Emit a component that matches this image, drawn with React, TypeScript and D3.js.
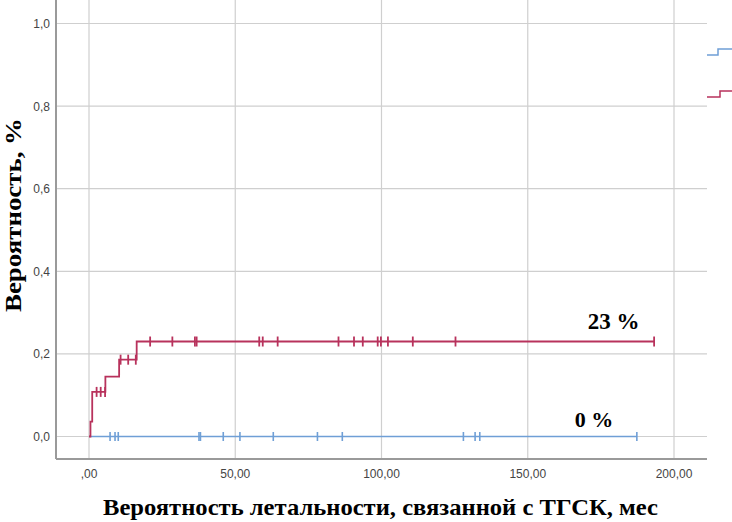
import React from "react";
import * as d3 from "d3";

const xTicks = [0, 50, 100, 150, 200];
const xTickLabels = [",00", "50,00", "100,00", "150,00", "200,00"];
const yTicks = [0, 0.2, 0.4, 0.6, 0.8, 1.0];
const yTickLabels = ["0,0", "0,2", "0,4", "0,6", "0,8", "1,0"];

// red curve: step times and levels
const redStepTimes = [0, 0.5, 1.1, 5.6, 10.3, 16.3, 193.2];
const redStepLevels = [0, 0.036, 0.108, 0.145, 0.186, 0.23, 0.23];
const redCensor = [2.6, 4.0, 5.5, 10.8, 13.4, 16.0, 20.9, 28.5, 36.2, 36.8, 58.2, 59.4, 64.5, 85.3, 90.6, 93.6, 98.7, 99.8, 102.2, 110.7, 125.3, 193.2];

const blueStepTimes = [0, 187.3];
const blueStepLevels = [0, 0];
const blueCensor = [7.2, 8.9, 10.0, 37.6, 38.1, 45.9, 51.6, 63.0, 78.1, 86.6, 128.0, 132.0, 133.6, 187.3];

const RED = "#b8325c";
const BLUE = "#6f9fd6";

export default function App() {
  const W = 732, H = 522;
  const x = d3.scaleLinear().domain([0, 200]).range([89, 674]);
  const y = d3.scaleLinear().domain([0, 1]).range([436.5, 23.5]);
  const left = 56, right = 707, bottom = 459, top = 0;

  const stepPath = (times: number[], levels: number[]) => {
    const pts: [number, number][] = times.map((t, i) => [t, levels[i]]);
    return d3.line<[number, number]>().x(d => x(d[0])).y(d => y(d[1])).curve(d3.curveStepAfter)(pts) || "";
  };
  const levelAt = (times: number[], levels: number[], t: number) => {
    let v = levels[0];
    for (let i = 0; i < times.length; i++) if (times[i] <= t) v = levels[i];
    return v;
  };

  return (
    <svg width={W} height={H} style={{ position: "absolute", left: 0, top: 0, background: "#fff" }}>
      <rect x={0} y={0} width={W} height={H} fill="#fff" />
      {/* grid */}
      {yTicks.map((v) => (
        <line key={"gy" + v} x1={left} x2={right} y1={y(v)} y2={y(v)} stroke="#cfcfcf" strokeWidth={1.2} />
      ))}
      {xTicks.map((v) => (
        <line key={"gx" + v} x1={x(v)} x2={x(v)} y1={top} y2={bottom} stroke="#cfcfcf" strokeWidth={1.2} />
      ))}
      {/* axes */}
      <line x1={left} x2={left} y1={top} y2={bottom} stroke="#9a9a9a" strokeWidth={2} />
      <line x1={left} x2={right} y1={bottom} y2={bottom} stroke="#9a9a9a" strokeWidth={2} />
      {/* tick labels */}
      {yTicks.map((v, i) => (
        <text key={"ty" + v} x={50} y={y(v) + 4.5} textAnchor="end" fontFamily="Liberation Sans, Arial" fontSize={12} fill="#444">{yTickLabels[i]}</text>
      ))}
      {xTicks.map((v, i) => (
        <text key={"tx" + v} x={x(v)} y={478} textAnchor="middle" fontFamily="Liberation Sans, Arial" fontSize={12} fill="#444">{xTickLabels[i]}</text>
      ))}
      {/* curves */}
      <path d={stepPath(blueStepTimes, blueStepLevels)} fill="none" stroke={BLUE} strokeWidth={1.7} />
      {blueCensor.map((t, i) => {
        const yy = y(levelAt(blueStepTimes, blueStepLevels, t));
        return <line key={"bc" + i} x1={x(t)} x2={x(t)} y1={yy - 4.5} y2={yy + 4.5} stroke={BLUE} strokeWidth={1.6} />;
      })}
      <path d={stepPath(redStepTimes, redStepLevels)} fill="none" stroke={RED} strokeWidth={1.8} />
      {redCensor.map((t, i) => {
        const yy = y(levelAt(redStepTimes, redStepLevels, t));
        return <line key={"rc" + i} x1={x(t)} x2={x(t)} y1={yy - 5} y2={yy + 5} stroke={RED} strokeWidth={1.8} />;
      })}
      {/* legend fragments */}
      <path d="M707,55 H718 V49 H732" fill="none" stroke={BLUE} strokeWidth={1.5} />
      <path d="M707,97 H720 V91 H732" fill="none" stroke={RED} strokeWidth={1.5} />
      {/* annotations */}
      <text x={613.5} y={329} textAnchor="middle" fontFamily="Liberation Serif, Times New Roman" fontWeight="bold" fontSize={23} fill="#000">23 %</text>
      <text x={594} y={427} textAnchor="middle" fontFamily="Liberation Serif, Times New Roman" fontWeight="bold" fontSize={22} fill="#000">0 %</text>
      {/* titles */}
      <text x={103} y={515} textLength={555} lengthAdjust="spacingAndGlyphs" fontFamily="Liberation Serif, Times New Roman" fontWeight="bold" fontSize={23} fill="#000">Вероятность летальности, связанной с ТГСК, мес</text>
      <text transform="translate(21,312) rotate(-90)" textLength={194} lengthAdjust="spacingAndGlyphs" fontFamily="Liberation Serif, Times New Roman" fontWeight="bold" fontSize={23} fill="#000">Вероятность, %</text>
    </svg>
  );
}
